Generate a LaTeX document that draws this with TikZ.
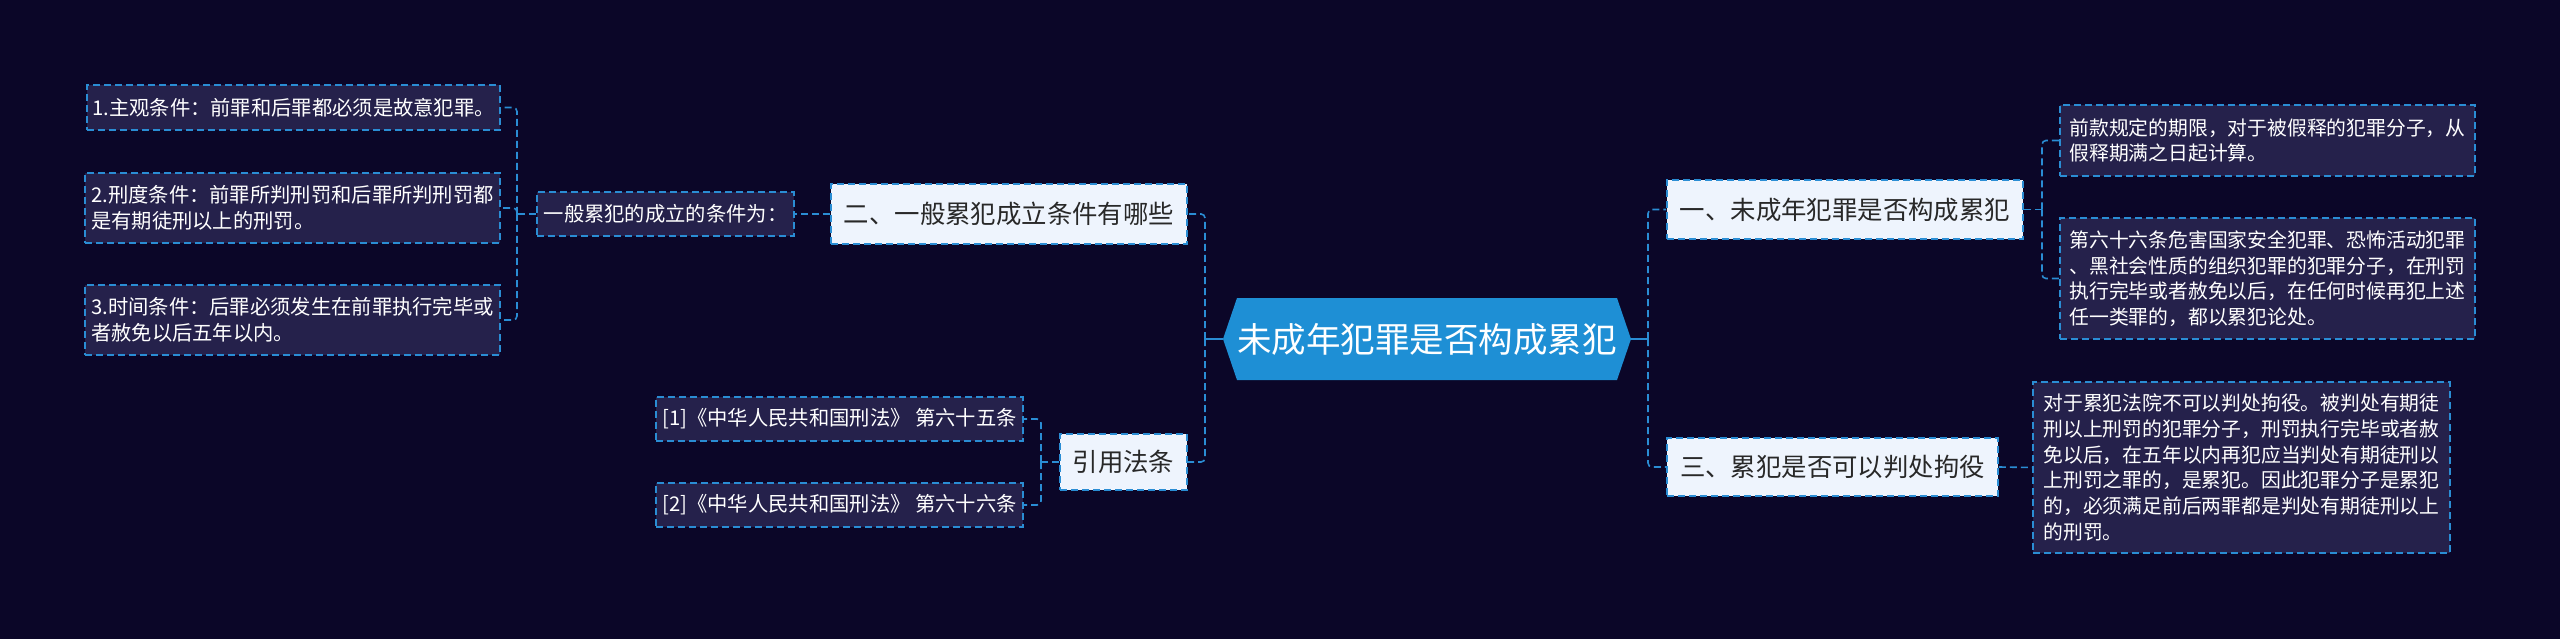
\documentclass[tikz,border=0pt]{standalone}
\usepackage{fontspec}
\setmainfont{Noto Sans CJK SC}
\definecolor{bg}{RGB}{11,6,40}
\definecolor{bord}{RGB}{42,141,212}
\definecolor{leaffill}{RGB}{37,33,75}
\definecolor{topicfill}{RGB}{238,244,253}
\definecolor{topictext}{RGB}{40,40,40}
\definecolor{hexfill}{RGB}{30,143,213}
\begin{document}
\begin{tikzpicture}[x=1pt,y=-1pt,
  conn/.style={draw=bord, line width=1.6pt, dash pattern=on 7pt off 4pt, rounded corners=4pt},
  stub/.style={draw=bord, line width=1.6pt},
  leaf/.style={draw=bord, line width=1.6pt, dash pattern=on 7pt off 4pt, fill=leaffill, text=white, align=left, inner sep=0pt},
  lfont/.style={font=\fontsize{20.3}{26}\selectfont},
  rfont/.style={font=\fontsize{19.8}{25.7}\selectfont},
  topic/.style={draw=bord, line width=1.6pt, dash pattern=on 7pt off 4pt, fill=topicfill, text=topictext, inner sep=0pt, font=\fontsize{25.4}{30}\selectfont},
  box/.style 2 args={minimum width=#1, minimum height=#2}
]
\fill[bg] (0,0) rectangle (2560,639);
\useasboundingbox (0,0) rectangle (2560,639);

% central topic
\fill[hexfill] (1237,298) -- (1617,298) -- (1631,339) -- (1617,380) -- (1237,380) -- (1223,339) -- cycle;
\node[box={408pt}{82pt}, inner sep=0pt, text=white, font=\fontsize{34.5}{40}\selectfont] (root) at (1427,339) {未成年犯罪是否构成累犯};

% left side
\node[topic, box={356pt}{60pt}] (n2) at (1009,214) {二、一般累犯成立条件有哪些};
\node[leaf, lfont, box={257pt}{44pt}] (gen) at (665.5,214) {一般累犯的成立的条件为：};
\node[leaf, lfont, box={413pt}{45pt}] (c1) at (293.5,107.5) {1.主观条件：前罪和后罪都必须是故意犯罪。};
\node[leaf, lfont, box={415pt}{70pt}] (c2) at (292.5,208) {2.刑度条件：前罪所判刑罚和后罪所判刑罚都\\是有期徒刑以上的刑罚。};
\node[leaf, lfont, box={415pt}{70pt}] (c3) at (292.5,320) {3.时间条件：后罪必须发生在前罪执行完毕或\\者赦免以后五年以内。};

\node[topic, box={127pt}{56pt}] (law) at (1123.5,462) {引用法条};
\node[leaf, lfont, box={367pt}{44pt}] (r1) at (839.5,419) {[1]《中华人民共和国刑法》 第六十五条};
\node[leaf, lfont, box={367pt}{44pt}] (r2) at (839.5,505) {[2]《中华人民共和国刑法》 第六十六条};

% right side
\node[topic, box={356pt}{59pt}] (n1) at (1845,209.5) {一、未成年犯罪是否构成累犯};
\node[leaf, rfont, box={415pt}{71pt}] (a) at (2267.5,140.5) {前款规定的期限，对于被假释的犯罪分子，从\\假释期满之日起计算。};
\node[leaf, rfont, box={415pt}{121pt}] (b) at (2267.5,278.5) {第六十六条危害国家安全犯罪、恐怖活动犯罪\\、黑社会性质的组织犯罪的犯罪分子，在刑罚\\执行完毕或者赦免以后，在任何时候再犯上述\\任一类罪的，都以累犯论处。};
\node[topic, box={331pt}{58pt}] (n3) at (1832.5,467) {三、累犯是否可以判处拘役};
\node[leaf, rfont, box={417pt}{171pt}] (cc) at (2241.5,467.5) {对于累犯法院不可以判处拘役。被判处有期徒\\刑以上刑罚的犯罪分子，刑罚执行完毕或者赦\\免以后，在五年以内再犯应当判处有期徒刑以\\上刑罚之罪的，是累犯。因此犯罪分子是累犯\\的，必须满足前后两罪都是判处有期徒刑以上\\的刑罚。};

% bus coordinates
\coordinate (lbus) at (1205,339);
\coordinate (rbus) at (1648,339);
\coordinate (gbus) at (517,214);
\coordinate (lawbus) at (1041,462);
\coordinate (n1bus) at (2042,209.5);

% connectors from root
\draw[stub] (root.west) -- (lbus);
\draw[stub] ([yshift=-5pt]lbus) -- ([yshift=5pt]lbus);
\draw[stub] (root.east) -- (rbus);
\draw[stub] ([yshift=-5pt]rbus) -- ([yshift=5pt]rbus);
\draw[conn] (lbus) |- (n2.east);
\draw[conn] (lbus) |- (law.east);
\draw[conn] (rbus) |- (n1.west);
\draw[conn] (rbus) |- (n3.west);

% left branch
\draw[conn] (n2.west) -- (gen.east);
\draw[conn] (gen.west) -- (gbus);
\draw[conn] (gbus) |- (c1.east);
\draw[conn] (gbus) |- (c2.east);
\draw[conn] (gbus) |- (c3.east);

\draw[conn] (law.west) -- (lawbus);
\draw[conn] (lawbus) |- (r1.east);
\draw[conn] (lawbus) |- (r2.east);

% right branch
\draw[conn] (n1.east) -- (n1bus);
\draw[conn] (n1bus) |- (a.west);
\draw[conn] (n1bus) |- (b.west);
\draw[conn] (n3.east) -- (cc.west);
\end{tikzpicture}
\end{document}
